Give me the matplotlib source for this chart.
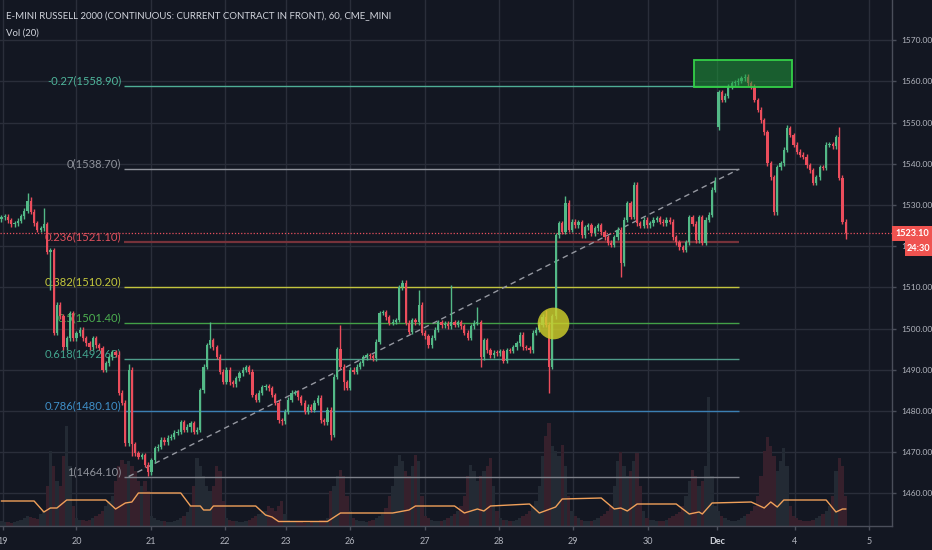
import matplotlib
matplotlib.use('Agg')
import matplotlib.pyplot as plt
import matplotlib.transforms as mtransforms
from matplotlib.patches import Rectangle
import numpy as np

plt.rcParams['font.family'] = ['Lato', 'DejaVu Sans']

# ---------------- data ----------------
title = 'E-MINI RUSSELL 2000 (CONTINUOUS: CURRENT CONTRACT IN FRONT), 60, CME_MINI'
subtitle = 'Vol (20)'

closes = [
    1527.0, 1527.2, 1526.3, 1525.3, 1525.6, 1526.2, 1527.3, 1528.6, 1531.0, 1528.4,
    1525.6, 1524.0, 1524.4, 1525.3, 1518.6, 1519.0, 1499.0, 1505.8, 1503.0, 1495.5,
    1497.7, 1503.8, 1497.7, 1498.9, 1499.7, 1497.7, 1496.5, 1495.5, 1497.7, 1496.0,
    1495.3, 1490.0, 1491.6, 1493.0, 1494.3, 1493.6, 1484.4, 1482.0, 1472.2, 1490.0,
    1472.0, 1469.8, 1468.9, 1469.3, 1467.0, 1465.2, 1468.1, 1471.0, 1471.3, 1473.0,
    1472.4, 1473.5, 1473.8, 1474.7, 1475.0, 1477.3, 1475.4, 1476.2, 1477.0, 1475.0,
    1475.5, 1485.1, 1490.7, 1496.0, 1497.2, 1495.5, 1493.2, 1489.5, 1487.1, 1490.0,
    1487.0, 1486.5, 1488.0, 1489.2, 1490.0, 1490.6, 1489.5, 1483.9, 1482.7, 1484.4,
    1485.8, 1486.0, 1485.5, 1483.9, 1482.0, 1477.8, 1477.5, 1479.8, 1482.7, 1484.4,
    1484.6, 1483.4, 1482.0, 1479.8, 1481.0, 1480.3, 1482.0, 1483.2, 1477.8, 1477.3,
    1480.3, 1474.2, 1488.3, 1495.0, 1490.7, 1487.0, 1485.6, 1490.0, 1489.5, 1490.7,
    1491.6, 1493.1, 1493.5, 1493.3, 1492.8, 1496.8, 1503.8, 1504.0, 1502.8, 1501.4,
    1501.7, 1502.1, 1510.1, 1511.1, 1501.4, 1499.2, 1502.1, 1501.6, 1505.8, 1499.0,
    1498.1, 1496.0, 1497.8, 1499.7, 1501.6, 1500.8, 1501.2, 1500.6, 1501.6, 1501.0,
    1501.6, 1500.6, 1499.0, 1497.8, 1500.6, 1501.4, 1501.6, 1493.1, 1497.2, 1494.8,
    1493.5, 1494.2, 1494.0, 1494.5, 1492.2, 1494.8, 1494.6, 1495.5, 1496.4, 1498.5,
    1495.5, 1495.3, 1494.8, 1499.0, 1499.7, 1500.9, 1502.9, 1501.0, 1490.7, 1503.0,
    1522.7, 1525.6, 1523.5, 1530.6, 1524.0, 1525.9, 1525.1, 1525.8, 1522.7, 1524.6,
    1525.1, 1523.2, 1524.4, 1525.1, 1523.4, 1522.2, 1520.8, 1520.3, 1522.2, 1524.0,
    1515.9, 1526.4, 1530.5, 1527.1, 1534.9, 1525.6, 1525.0, 1526.4, 1525.1, 1525.6,
    1526.4, 1526.8, 1526.0, 1525.6, 1526.4, 1526.0, 1522.2, 1521.0, 1519.8, 1519.1,
    1521.0, 1527.1, 1525.5, 1521.5, 1527.1, 1520.8, 1526.4, 1527.6, 1533.7, 1535.6,
    1557.4, 1555.5, 1556.5, 1558.7, 1559.6, 1559.8, 1560.2, 1560.8, 1561.1, 1559.6,
    1558.7, 1555.5, 1553.1, 1550.6, 1547.7, 1540.2, 1536.8, 1528.3, 1539.2, 1540.2,
    1543.4, 1548.7, 1547.0, 1544.6, 1542.9, 1542.2, 1541.7, 1539.7, 1538.5, 1535.4,
    1536.8, 1539.2, 1539.0, 1544.6, 1544.8, 1544.3, 1546.5, 1536.6, 1526.0, 1523.1,
]
first_open = 1526.5
open_overrides = {220: 1549.0}          # session gap on Dec 1 -> Dec 4
high_overrides = {8: 1533.0, 9: 1532.0, 13: 1529.3, 36: 1494.5, 39: 1491.5,
                  64: 1501.6, 104: 1500.9, 128: 1509.4, 138: 1510.6, 146: 1505.3,
                  167: 1504.5, 173: 1532.2, 194: 1535.5, 219: 1536.8, 228: 1561.8,
                  241: 1549.4, 257: 1549.0}
low_overrides = {15: 1509.4, 40: 1469.0, 45: 1464.3, 58: 1475.0, 86: 1476.5,
                 101: 1473.0, 105: 1485.0, 147: 1490.7, 168: 1484.4, 190: 1512.5,
                 220: 1548.2, 237: 1527.5, 259: 1521.8}

volume = [
    5, 4, 4, 3, 4, 5, 6, 8, 10, 9, 8, 7, 12,
    15, 40, 75, 60, 45, 40, 70, 100, 60, 20,
    8, 6, 6, 5, 6, 8, 10, 12, 15, 20, 25, 30, 45, 60, 66, 62, 65, 60, 55, 45, 40, 45, 35,
    10, 8, 6, 5, 5, 4, 4, 5, 6, 8, 10, 14, 20, 40, 68, 60, 50, 40, 35, 40, 60, 55, 25,
    8, 6, 5, 5, 4, 4, 5, 6, 8, 10, 12, 15, 15, 20, 18, 15, 20, 25, 12,
    6, 5, 4, 4, 4, 3, 3, 4, 4, 5, 6, 6, 8, 35, 40, 50, 56, 50, 30,
    15, 8, 6, 5, 5, 4, 5, 6, 8, 10, 12, 18, 30, 40, 60, 71, 65, 55, 50, 60, 71, 65, 30,
    10, 8, 6, 5, 5, 5, 6, 8, 10, 12, 15, 20, 30, 50, 61, 55, 45, 50, 55, 60, 68, 40, 15,
    8, 6, 6, 5, 5, 6, 8, 10, 12, 15, 20, 25, 40, 70, 90, 103, 80, 75, 70, 81, 60, 30, 15,
    10, 8, 6, 5, 5, 5, 6, 8, 10, 12, 15, 20, 40, 65, 74, 60, 50, 55, 65, 73, 40, 15,
    8, 6, 6, 5, 5, 5, 6, 8, 10, 12, 14, 20, 30, 45, 56, 50, 40, 45, 60, 129, 50, 20,
    15, 10, 8, 6, 5, 5, 6, 8, 10, 12, 15, 20, 30, 50, 75, 89, 80, 70, 55, 65, 78, 60, 20,
    10, 8, 6, 5, 5, 5, 6, 8, 10, 12, 15, 20, 30, 55, 68, 60, 30,
]
# volume moving average (Vol 20), read as (bar, value) points
ma_idx = [0, 10, 13, 15, 17, 20, 32, 35, 38, 40, 42, 55, 58, 61, 62, 64, 65, 78, 81,
          83, 85, 100, 104, 120, 125, 127, 139, 142, 146, 148, 150, 162, 165, 170,
          172, 184, 188, 190, 192, 195, 207, 211, 214, 215, 218, 230, 234, 236, 238,
          240, 253, 256, 258, 259]
ma_val = [25, 25, 14, 18, 18, 26, 26, 17, 23, 24, 33, 33, 20, 20, 16, 16, 20, 20, 11,
          9, 4.5, 4.5, 13, 13, 16, 20, 20, 13, 17, 15, 20, 22, 13, 19,
          27, 28, 17, 18, 15, 22, 22, 12, 14, 12, 23, 24, 18, 24, 19,
          26, 26, 14, 17, 17]

day_ticks = [0.46, 23.0, 45.9, 68.6, 87.3, 106.9, 129.9, 152.6, 175.3, 198.3, 219.5, 243.4, 266.1]
day_labels = ['19', '20', '21', '22', '23', '26', '27', '28', '29', '30', 'Dec', '4', '5']

fib_ratios = [-0.27, 0, 0.236, 0.382, 0.5, 0.618, 0.786, 1]
fib_prices = [1558.90, 1538.70, 1521.10, 1510.20, 1501.40, 1492.60, 1480.10, 1464.10]
fib_line_colors = ['#4fae96', '#8f929b', '#76323a', '#c3c43e', '#43a047', '#4f9c8a', '#3b7fb3', '#7e818a']
fib_text_colors = ['#4fb59b', '#8f929b', '#e0505d', '#c5c83c', '#4caf50', '#43a58f', '#3f8fc8', '#8f929b']
fib_x0, fib_x1 = 37.6, 226.2
trend_start = (39.0, 1464.1)
trend_end = (226.2, 1538.7)

box_x = (212.4, 242.5)
box_p = (1558.7, 1565.2)
circle_center = (169.1, 1501.4)

last_price = 1523.10
countdown = '24:30'
y_ticks = list(range(1460, 1571, 10))

# ---------------- styling ----------------
BG = '#131722'
GRID = '#2a2e3a'
AXC = '#4a4e5a'
TXT = '#b2b5be'
UP = '#53b987'
DN = '#eb4d5c'

fig = plt.figure(figsize=(9.32, 5.5), dpi=100, facecolor=BG)
W, H = 932.0, 550.0
ax = fig.add_axes([0, 24 / H, 892 / W, 526 / H])
ax.set_facecolor(BG)
ax.set_xlim(-0.46, 273.2)
ax.set_ylim(1452.1, 1579.77)

for s in ['top', 'left']:
    ax.spines[s].set_visible(False)
for s in ['right', 'bottom']:
    ax.spines[s].set_color(AXC)
    ax.spines[s].set_linewidth(1.0)

ax.yaxis.tick_right()
ax.set_yticks(y_ticks)
ax.set_yticklabels([f'{v:.2f}' for v in y_ticks])
ax.set_xticks(day_ticks)
ax.set_xticklabels(day_labels)
ax.tick_params(axis='both', colors=AXC, labelcolor=TXT, length=3, width=1, labelsize=7.6)
ax.tick_params(axis='x', pad=5)
ax.tick_params(axis='y', pad=4)
for lab in ax.get_xticklabels():
    if lab.get_text() == 'Dec':
        lab.set_fontweight('bold')
        lab.set_color('#d1d4dc')
ax.grid(True, color=GRID, linewidth=1.0, zorder=0)
ax.set_axisbelow(True)

blend = mtransforms.blended_transform_factory(ax.transData, ax.transAxes)
blend_ax_data = mtransforms.blended_transform_factory(ax.transAxes, ax.transData)

# candles
n = len(closes)
idx = np.arange(n)
opens = [first_open] + closes[:-1]
for k, v in open_overrides.items():
    opens[k] = v
opens = np.array(opens)
cl = np.array(closes)
body_top = np.maximum(opens, cl)
body_bot = np.minimum(opens, cl)
highs = body_top + 0.6
lows = body_bot - 0.6
for k, v in high_overrides.items():
    highs[k] = v
for k, v in low_overrides.items():
    lows[k] = v
up = cl >= opens
colors = np.where(up, UP, DN)

# volume (own scale, drawn in axes-fraction units at the bottom)
VOL_TOP = 526.0
vol = np.array(volume, dtype=float)
vol_colors = np.where(up, '#232a34', '#36202c')
ax.bar(idx, vol / VOL_TOP, width=1.0, bottom=0, color=vol_colors, transform=blend,
       zorder=1, linewidth=0)
ax.plot(ma_idx, np.array(ma_val) / VOL_TOP, color='#f0a05a', lw=1.0, transform=blend, zorder=2)

# fib levels
for r, p, lc, tc in zip(fib_ratios, fib_prices, fib_line_colors, fib_text_colors):
    lw = 1.6 if r == 0.236 else 1.0
    ax.plot([fib_x0, fib_x1], [p, p], color=lc, lw=lw, zorder=2.5, solid_capstyle='butt')
fib_texts = []
for r, p, tc in zip(fib_ratios, fib_prices, fib_text_colors):
    t = ax.annotate(f'{r:g}({p:.2f})', xy=(fib_x0 - 0.8, p), xytext=(0, 1.5),
                    textcoords='offset pixels', ha='right', va='baseline', color=tc,
                    fontsize=8.5, zorder=2.6)
    fib_texts.append(t)

# dashed trend line
ax.plot([trend_start[0], trend_end[0]], [trend_start[1], trend_end[1]], color='#9598a1',
        lw=1.0, ls=(0, (4, 3)), zorder=2.7)

# current price dotted line
ax.axhline(last_price, color='#e8505e', lw=0.9, ls=(0, (1, 1.5)), zorder=2.8)

# candles draw
ax.vlines(idx, lows, highs, colors=colors, lw=1.0, zorder=3)
heights = np.maximum(body_top - body_bot, 0.25)
ax.bar(idx, heights, bottom=body_bot, width=0.68, color=colors, linewidth=0, zorder=3.1)

# green box
ax.add_patch(Rectangle((box_x[0], box_p[0]), box_x[1] - box_x[0], box_p[1] - box_p[0],
                       facecolor='#1e9a3a', alpha=0.55, edgecolor='none', zorder=4))
ax.add_patch(Rectangle((box_x[0], box_p[0]), box_x[1] - box_x[0], box_p[1] - box_p[0],
                       facecolor='none', edgecolor='#34d048', lw=1.3, zorder=4.1))

# yellow circle
ax.scatter([circle_center[0]], [circle_center[1]], s=520, color='#cfcf2a', alpha=0.82,
           linewidths=0, zorder=4.2)

# price tags on the right axis (boxes in pixel-sized units next to the axis)
px = 1.0 / 892.0
tag_h = 15.0 / 526.0 * (1579.77 - 1452.1)
ax.add_patch(Rectangle((1.0, last_price - tag_h / 2), 40 * px, tag_h, transform=blend_ax_data,
                       facecolor='#ef5350', edgecolor='none', zorder=9, clip_on=False))
ax.add_patch(Rectangle((1.0 + 13 * px, last_price - tag_h / 2 - tag_h), 27 * px, tag_h,
                       transform=blend_ax_data, facecolor='#ef5350', edgecolor='none',
                       zorder=9, clip_on=False))
tag1 = ax.text(1.0 + 20 * px, last_price, f'{last_price:.2f}', transform=blend_ax_data,
               ha='center', va='center', color='white', fontsize=7.6, fontweight='bold',
               zorder=10, clip_on=False)
tag2 = ax.text(1.0 + 26.5 * px, last_price - tag_h, countdown, transform=blend_ax_data,
               ha='center', va='center', color='white', fontsize=7.6, fontweight='bold',
               zorder=10, clip_on=False)

# titles
t1 = fig.text(6 / W, 1 - 16 / H, title, color='#d1d4dc', fontsize=8.5, va='center', ha='left')
t2 = fig.text(6 / W, 1 - 33 / H, subtitle, color='#d1d4dc', fontsize=8.5, va='center', ha='left')

# fit text widths to the reference
fig.canvas.draw()
def fit(txt, target):
    w = txt.get_window_extent().width
    txt.set_fontsize(txt.get_fontsize() * target / w)

fit(t1, 387)
t2.set_fontsize(t1.get_fontsize())
fit(tag1, 34)
tag2.set_fontsize(tag1.get_fontsize())
w_ref = fib_texts[0].get_window_extent().width
scale = 74.0 / w_ref
for t in fib_texts:
    t.set_fontsize(t.get_fontsize() * scale)
ylab = ax.get_yticklabels()[-1]
ysz = 7.6 * 31.0 / ylab.get_window_extent().width
ax.tick_params(axis='y', labelsize=ysz)
ax.tick_params(axis='x', labelsize=ysz * 1.08)

fig.savefig('out.png', dpi=100, facecolor=BG)
